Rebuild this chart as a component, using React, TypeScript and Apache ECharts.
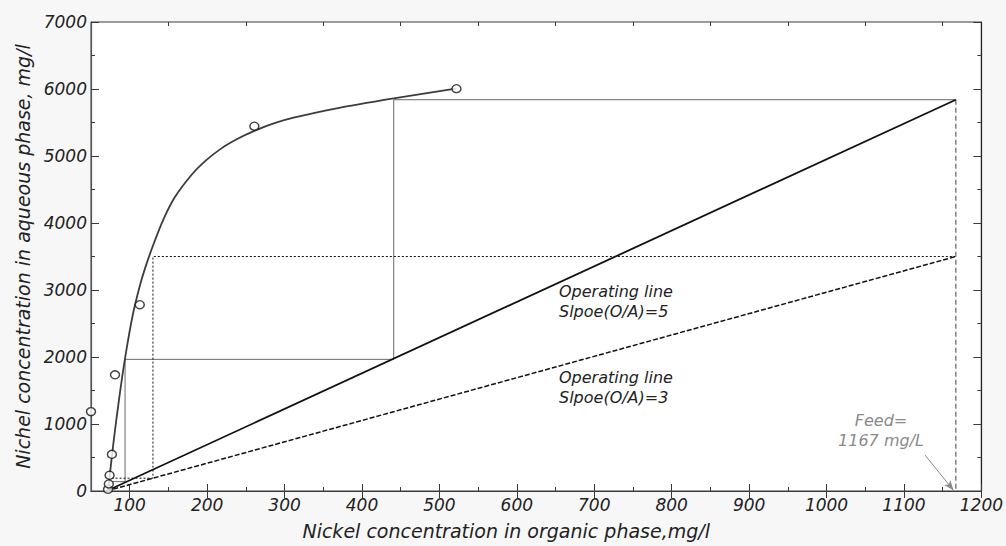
import React, { useEffect, useRef } from 'react';
import * as echarts from 'echarts';

// Fitted equilibrium (isotherm) curve
const curveX = [72, 79, 86, 94, 104, 113, 120, 130, 143, 158, 180, 197, 218, 240, 261, 287, 313, 364, 441, 521];
const curveY = [0, 720, 1350, 1983, 2630, 3060, 3330, 3660, 4040, 4380, 4720, 4920, 5110, 5260, 5375, 5490, 5575, 5705, 5860, 6005];

// Experimental points
const pointX = [50, 72, 73, 74, 77, 81, 113, 261, 522];
const pointY = [1185, 25, 105, 235, 548, 1734, 2780, 5445, 6005];

// Operating lines
const op5X = [70, 1167];
const op5Y = [0, 5840];
const op3X = [70, 1167];
const op3Y = [0, 3500];

// McCabe-Thiele stages
const stair5X = [1167, 441, 441, 94, 94, 74];
const stair5Y = [5840, 5840, 1965, 1965, 140, 140];
const stair3X = [1167, 130, 130, 73];
const stair3Y = [3500, 3500, 191, 191];

// Feed line
const feedX = [1167, 1167];
const feedY = [5840, 0];

// Axis ticks
const xMajor = [100, 200, 300, 400, 500, 600, 700, 800, 900, 1000, 1100, 1200];
const xMinor = [150, 250, 350, 450, 550, 650, 750, 850, 950, 1050, 1150];

const zip = (a: number[], b: number[]) => a.map((v, i) => [v, b[i]]);

const FONT = 'DejaVu Sans';
const AX = '#3a3a3a';
const plain = (v: number) => String(v);

export default function App() {
  const ref = useRef<HTMLDivElement>(null);
  useEffect(() => {
    if (!ref.current) return;
    const chart = echarts.init(ref.current, undefined, { renderer: 'svg' });
    const xBase = { type: 'value', min: 50, max: 1200, splitLine: { show: false } };
    const option: any = {
      animation: false,
      backgroundColor: '#f7f7f7',
      grid: { left: 91, right: 22, top: 22, bottom: 55, show: true, backgroundColor: '#ffffff', borderColor: AX, borderWidth: 1 },
      xAxis: [
        {
          ...xBase,
          position: 'bottom',
          name: 'Nickel concentration in organic phase,mg/l',
          nameLocation: 'middle',
          nameGap: 30,
          nameTextStyle: { fontFamily: FONT, fontStyle: 'italic', fontSize: 19, color: '#222', padding: [0, 60, 0, 0] },
          axisLine: { show: true, lineStyle: { color: AX, width: 1.2 } },
          axisTick: { show: true, inside: true, length: 7, lineStyle: { color: AX }, customValues: xMajor },
          axisLabel: { show: true, margin: 5, fontFamily: FONT, fontStyle: 'italic', fontSize: 17, color: '#222', customValues: xMajor, formatter: plain },
        },
        {
          ...xBase,
          position: 'top',
          axisLine: { show: true, lineStyle: { color: AX, width: 1 } },
          axisTick: { show: true, inside: true, length: 7, lineStyle: { color: AX }, customValues: xMajor },
          axisLabel: { show: false },
        },
        {
          ...xBase,
          position: 'bottom',
          axisLine: { show: false },
          axisTick: { show: true, inside: true, length: 4, lineStyle: { color: AX }, customValues: xMinor },
          axisLabel: { show: false },
        },
        {
          ...xBase,
          position: 'top',
          axisLine: { show: false },
          axisTick: { show: true, inside: true, length: 4, lineStyle: { color: AX }, customValues: xMinor },
          axisLabel: { show: false },
        },
      ],
      yAxis: [
        {
          type: 'value',
          min: 0,
          max: 7000,
          interval: 1000,
          position: 'left',
          name: 'Nichel concentration in aqueous phase, mg/l',
          nameLocation: 'middle',
          nameGap: 57,
          nameTextStyle: { fontFamily: FONT, fontStyle: 'italic', fontSize: 19, color: '#222' },
          splitLine: { show: false },
          axisLine: { show: true, lineStyle: { color: '#555', width: 1.2 } },
          axisTick: { show: true, inside: true, length: 8, lineStyle: { color: AX } },
          minorTick: { show: true, splitNumber: 2, length: 4, lineStyle: { color: AX } },
          axisLabel: { margin: 4, fontFamily: FONT, fontStyle: 'italic', fontSize: 17, color: '#222', formatter: plain },
        },
        {
          type: 'value',
          min: 0,
          max: 7000,
          interval: 1000,
          position: 'right',
          splitLine: { show: false },
          axisLine: { show: true, lineStyle: { color: '#222', width: 1.2 } },
          axisTick: { show: true, inside: true, length: 8, lineStyle: { color: AX } },
          minorTick: { show: true, splitNumber: 2, length: 4, lineStyle: { color: AX } },
          axisLabel: { show: false },
        },
      ],
      series: [
        {
          name: 'Staircase slope 5',
          type: 'line',
          data: zip(stair5X, stair5Y),
          symbol: 'none',
          lineStyle: { color: '#6a6a6a', width: 1 },
          z: 2,
        },
        {
          name: 'Staircase slope 3',
          type: 'line',
          data: zip(stair3X, stair3Y),
          symbol: 'none',
          lineStyle: { color: '#111', width: 1, type: [2, 2] },
          z: 2,
        },
        {
          name: 'Feed',
          type: 'line',
          data: zip(feedX, feedY),
          symbol: 'none',
          lineStyle: { color: '#8a8a8a', width: 1.6, type: [5, 3] },
          z: 2,
          markLine: {
            silent: true,
            symbol: ['none', 'arrow'],
            symbolSize: [6, 10],
            label: { show: false },
            lineStyle: { color: '#8a8a8a', width: 1, type: 'solid' },
            data: [[{ coord: [1127, 540] }, { coord: [1164, 10] }]],
          },
        },
        {
          name: 'Operating line O/A=5',
          type: 'line',
          data: zip(op5X, op5Y),
          symbol: 'none',
          lineStyle: { color: '#111', width: 1.8 },
          z: 3,
        },
        {
          name: 'Operating line O/A=3',
          type: 'line',
          data: zip(op3X, op3Y),
          symbol: 'none',
          lineStyle: { color: '#111', width: 1.5, type: [5, 2] },
          z: 3,
        },
        {
          name: 'Isotherm',
          type: 'line',
          data: zip(curveX, curveY),
          smooth: 0.3,
          symbol: 'none',
          lineStyle: { color: '#3c3c3c', width: 1.8 },
          z: 4,
        },
        {
          name: 'Experimental',
          type: 'scatter',
          data: zip(pointX, pointY),
          symbol: 'circle',
          symbolSize: [9, 8],
          itemStyle: { color: '#ffffff', borderColor: '#111', borderWidth: 1.4 },
          z: 5,
        },
      ],
      graphic: [
        { type: 'text', x: 559, y: 291, style: { text: 'Operating line', fontFamily: FONT, fontStyle: 'italic', fontSize: 16, fill: '#222', textVerticalAlign: 'middle' } },
        { type: 'text', x: 559, y: 311, style: { text: 'Slpoe(O/A)=5', fontFamily: FONT, fontStyle: 'italic', fontSize: 16, fill: '#222', textVerticalAlign: 'middle' } },
        { type: 'text', x: 559, y: 377, style: { text: 'Operating line', fontFamily: FONT, fontStyle: 'italic', fontSize: 16, fill: '#222', textVerticalAlign: 'middle' } },
        { type: 'text', x: 559, y: 397, style: { text: 'Slpoe(O/A)=3', fontFamily: FONT, fontStyle: 'italic', fontSize: 16, fill: '#222', textVerticalAlign: 'middle' } },
        { type: 'text', x: 881, y: 420, style: { text: 'Feed=', fontFamily: FONT, fontStyle: 'italic', fontSize: 16, fill: '#8a8a8a', textAlign: 'center', textVerticalAlign: 'middle' } },
        { type: 'text', x: 881, y: 440, style: { text: '1167 mg/L', fontFamily: FONT, fontStyle: 'italic', fontSize: 16, fill: '#8a8a8a', textAlign: 'center', textVerticalAlign: 'middle' } },
      ],
    };
    chart.setOption(option);
    return () => chart.dispose();
  }, []);
  return <div ref={ref} style={{ position: 'absolute', left: 0, top: 0, width: 1006, height: 546 }} />;
}
